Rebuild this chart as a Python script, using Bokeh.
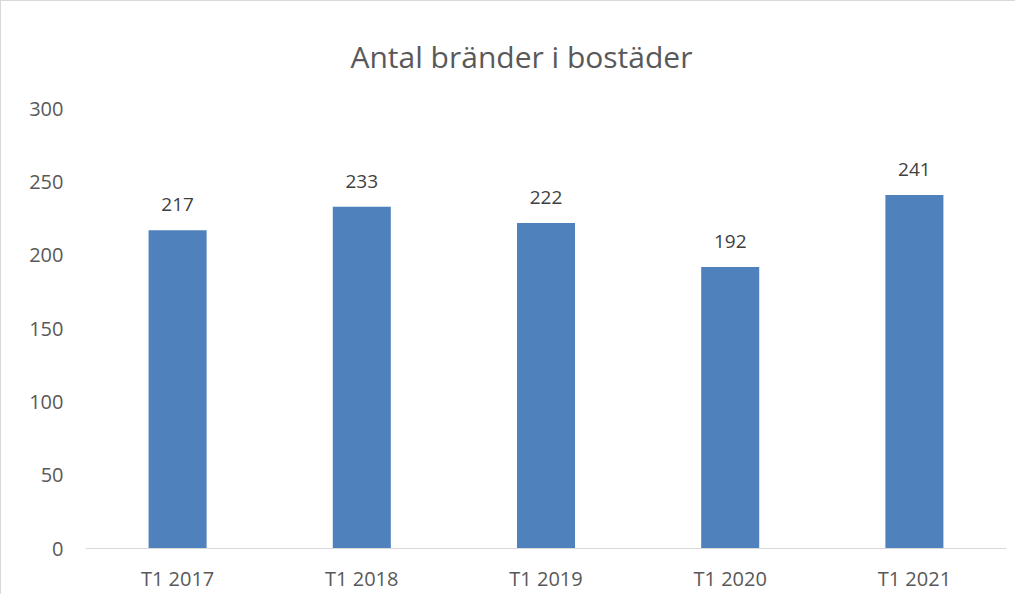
from bokeh.plotting import figure
from bokeh.models import ColumnDataSource, Range1d, FixedTicker
from bokeh.core.properties import value
from bokeh.embed import file_html
from bokeh.resources import INLINE

categories = ["T1 2017", "T1 2018", "T1 2019", "T1 2020", "T1 2021"]
counts = [217, 233, 222, 192, 241]
y_ticks = [0, 50, 100, 150, 200, 250, 300]
title_text = "Antal bränder i bostäder"

FONT = "Open Sans"

src = ColumnDataSource(dict(cat=categories, val=counts, lbl=[str(v) for v in counts]))

p = figure(x_range=categories, y_range=Range1d(0, 300), width=1015, height=594,
           output_backend="svg", toolbar_location=None, title=title_text,
           min_border_left=84, min_border_right=10, min_border_top=107, min_border_bottom=47)
p.styles = {"border-left": "1px solid #d9d9d9", "border-top": "1px solid #d9d9d9",
            "box-sizing": "border-box"}
p.outline_line_color = None
p.xgrid.grid_line_color = None
p.ygrid.grid_line_color = None

p.title.align = "left"
p.title.offset = 265
p.title.standoff = 63
p.title.text_font = FONT
p.title.text_font_size = "30px"
p.title.text_font_style = "normal"
p.title.text_color = "#595959"

p.vbar(x="cat", top="val", width=0.315, source=src, fill_color="#4F81BD", line_color=None)
p.text(x="cat", y="val", text="lbl", source=src, text_align="center", text_baseline="bottom",
       y_offset=-19, text_font=value(FONT), text_font_size="19px", text_color="#404040")

p.yaxis.ticker = FixedTicker(ticks=y_ticks)
p.yaxis.axis_line_color = None
p.yaxis.major_tick_line_color = None
p.yaxis.minor_tick_line_color = None
p.yaxis.major_label_standoff = 16
p.yaxis.major_label_text_font = FONT
p.yaxis.major_label_text_font_size = "20px"
p.yaxis.major_label_text_color = "#595959"

p.xaxis.axis_line_color = "#d9d9d9"
p.xaxis.axis_line_width = 1
p.xaxis.major_tick_line_color = None
p.xaxis.minor_tick_line_color = None
p.xaxis.major_label_standoff = 10
p.xaxis.major_label_text_font = FONT
p.xaxis.major_label_text_font_size = "20px"
p.xaxis.major_label_text_color = "#595959"

open("out.html", "w").write(file_html(p, INLINE))
